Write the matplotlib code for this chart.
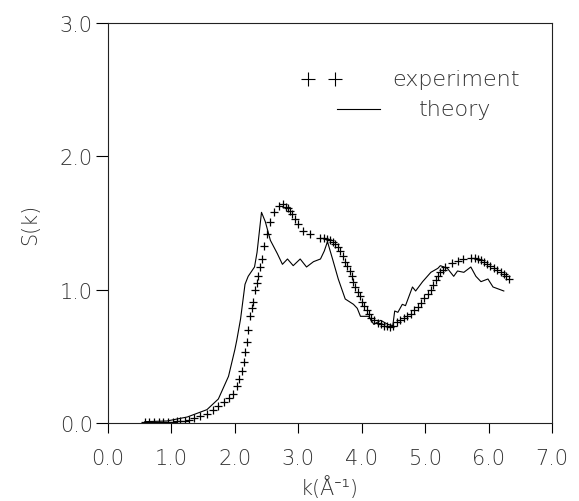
import numpy as np
import matplotlib as mpl
mpl.use('Agg')
import matplotlib.pyplot as plt

# values
k_exp = [0.58, 0.65, 0.72, 0.80, 0.87, 0.95, 1.02, 1.09, 1.14, 1.21, 1.27, 1.36,
         1.45, 1.56, 1.66, 1.74, 1.83, 1.90, 1.97, 2.03, 2.07, 2.11, 2.14, 2.16,
         2.19, 2.21, 2.24, 2.27, 2.29, 2.32, 2.35, 2.37, 2.40, 2.43, 2.46, 2.51,
         2.56, 2.61, 2.69, 2.76, 2.80, 2.83, 2.87, 2.90, 2.95, 3.00, 3.08, 3.19,
         3.35, 3.40, 3.46, 3.50, 3.54, 3.58, 3.62, 3.66, 3.70, 3.74, 3.77, 3.81,
         3.84, 3.87, 3.90, 3.94, 3.97, 4.00, 4.04, 4.08, 4.11, 4.15, 4.19, 4.25,
         4.30, 4.35, 4.40, 4.45, 4.49, 4.56, 4.61, 4.66, 4.72, 4.77, 4.83, 4.88,
         4.93, 4.98, 5.04, 5.09, 5.13, 5.17, 5.21, 5.24, 5.28, 5.32, 5.43, 5.52,
         5.59, 5.72, 5.78, 5.83, 5.88, 5.92, 5.97, 6.03, 6.08, 6.14, 6.19, 6.24,
         6.28, 6.32]
s_exp = [0.01, 0.01, 0.01, 0.01, 0.01, 0.01, 0.01, 0.012, 0.015, 0.018, 0.02, 0.035,
         0.05, 0.07, 0.10, 0.13, 0.16, 0.19, 0.22, 0.28, 0.33, 0.39, 0.46, 0.53,
         0.61, 0.70, 0.80, 0.86, 0.91, 1.00, 1.05, 1.10, 1.17, 1.23, 1.33, 1.42,
         1.51, 1.58, 1.63, 1.64, 1.62, 1.61, 1.59, 1.57, 1.53, 1.49, 1.44, 1.42,
         1.39, 1.385, 1.38, 1.37, 1.36, 1.34, 1.32, 1.29, 1.25, 1.21, 1.18, 1.14,
         1.10, 1.06, 1.02, 0.98, 0.95, 0.91, 0.88, 0.85, 0.82, 0.79, 0.77, 0.75,
         0.74, 0.73, 0.73, 0.72, 0.73, 0.76, 0.775, 0.79, 0.805, 0.82, 0.845, 0.87,
         0.90, 0.94, 0.97, 1.00, 1.035, 1.07, 1.10, 1.13, 1.15, 1.17, 1.20, 1.215,
         1.23, 1.24, 1.235, 1.23, 1.22, 1.21, 1.195, 1.18, 1.165, 1.15, 1.135, 1.12,
         1.10, 1.08]

k_th = [0.58, 0.93, 1.25, 1.56, 1.74, 1.90, 2.00, 2.03, 2.09, 2.16, 2.21, 2.31,
        2.35, 2.42, 2.48, 2.56, 2.67, 2.75, 2.83, 2.92, 3.03, 3.13, 3.24, 3.35,
        3.41, 3.46, 3.54, 3.63, 3.74, 3.87, 3.93, 3.98, 4.11, 4.19, 4.30, 4.41,
        4.49, 4.52, 4.57, 4.64, 4.69, 4.80, 4.85, 4.96, 5.09, 5.20, 5.24, 5.35,
        5.45, 5.51, 5.61, 5.72, 5.80, 5.88, 5.99, 6.07, 6.24]
s_th = [0.01, 0.015, 0.045, 0.10, 0.18, 0.35, 0.55, 0.62, 0.78, 1.04, 1.10, 1.17,
        1.28, 1.58, 1.51, 1.37, 1.27, 1.19, 1.23, 1.18, 1.23, 1.17, 1.21, 1.23,
        1.29, 1.36, 1.23, 1.08, 0.93, 0.89, 0.86, 0.80, 0.80, 0.74, 0.77, 0.74,
        0.73, 0.84, 0.83, 0.89, 0.88, 1.02, 0.99, 1.06, 1.13, 1.16, 1.18, 1.16,
        1.10, 1.14, 1.13, 1.17, 1.10, 1.06, 1.08, 1.02, 0.99]

xticks = [0, 1, 2, 3, 4, 5, 6, 7]
yticks = [0, 1, 2, 3]

plt.rcParams['font.family'] = ['DejaVu Sans']
txt = '#333333'

fig = plt.figure(figsize=(5.79, 5.02), dpi=100)
ax = fig.add_axes([0.1865, 0.1554, 0.7669, 0.7968])

ax.plot(k_th, s_th, '-', color='black', lw=0.8)
ax.plot(k_exp, s_exp, '+', color='black', ms=6, mew=0.9)

ax.set_xlim(0, 7)
ax.set_ylim(0, 3)
ax.set_xticks(xticks)
ax.set_yticks(yticks)
ax.set_xticklabels(['%.1f' % v for v in xticks])
ax.set_yticklabels(['%.1f' % v for v in yticks])
ax.tick_params(axis='x', direction='out', length=7, width=0.8, pad=11,
               labelsize=15, labelcolor=txt)
ax.tick_params(axis='y', direction='out', length=9, width=0.8, pad=2,
               labelsize=15, labelcolor=txt)
for lab in ax.get_xticklabels() + ax.get_yticklabels():
    lab.set_fontweight('light')
for sp in ax.spines.values():
    sp.set_linewidth(0.8)
    sp.set_color('#222222')

# the light face has no superscript minus, so fall back to Noto Sans for it
ax.set_xlabel('k(Å⁻¹)', fontsize=15, color=txt, fontweight='light', labelpad=5,
              family=['DejaVu Sans', 'Noto Sans', 'Liberation Sans'])
ax.set_ylabel('S(k)', fontsize=15, color=txt, fontweight='light', labelpad=14)

# hand-drawn style legend, top right
ax.plot([0.450, 0.511], [0.86, 0.86], '+', color='black', ms=10, mew=0.8,
        transform=ax.transAxes, clip_on=False)
ax.plot([0.516, 0.612], [0.785, 0.785], '-', color='black', lw=0.8,
        transform=ax.transAxes)
ax.text(0.784, 0.86, 'experiment', transform=ax.transAxes, ha='center',
        va='center', fontsize=16, color=txt, fontweight='light')
ax.text(0.782, 0.785, 'theory', transform=ax.transAxes, ha='center',
        va='center', fontsize=16, color=txt, fontweight='light')

plt.savefig('out.png', dpi=100)
